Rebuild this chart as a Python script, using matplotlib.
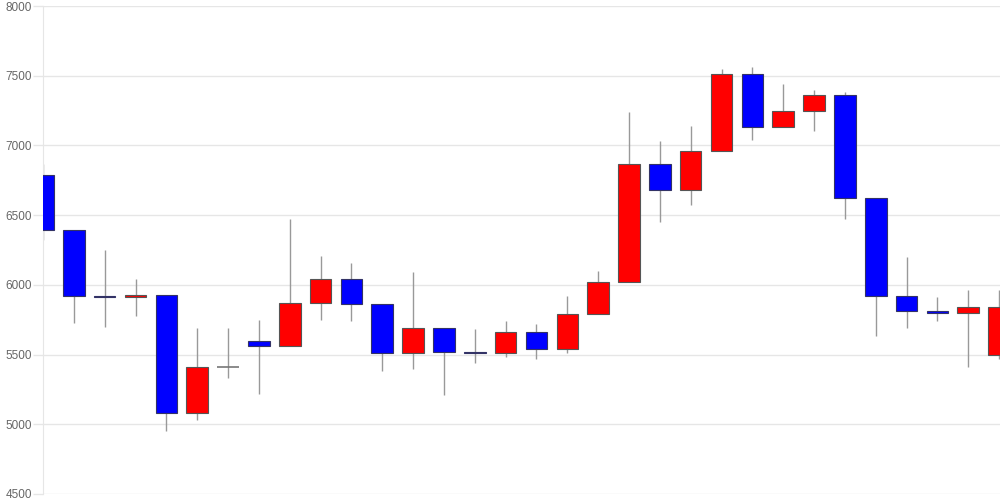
import matplotlib
matplotlib.use("Agg")
import matplotlib.pyplot as plt
import numpy as np

# daily OHLC values
opens  = [6790, 6390, 5920, 5910, 5930, 5080, 5410, 5600, 5560, 5870, 6040,
          5860, 5510, 5690, 5520, 5510, 5660, 5540, 5790, 6020, 6870, 6680,
          6960, 7510, 7130, 7250, 7360, 6620, 5920, 5810, 5800, 5500]
highs  = [6870, 6390, 6250, 6040, 5930, 5690, 5690, 5750, 6470, 6210, 6160,
          5860, 6090, 5690, 5680, 5740, 5720, 5920, 6100, 7240, 7030, 7140,
          7550, 7560, 7440, 7400, 7380, 6620, 6200, 5910, 5960, 5960]
lows   = [6320, 5730, 5700, 5780, 4950, 5030, 5330, 5220, 5560, 5750, 5740,
          5380, 5400, 5210, 5440, 5480, 5470, 5510, 5790, 6020, 6450, 6570,
          6960, 7040, 7130, 7100, 6470, 5630, 5690, 5740, 5410, 5470]
closes = [6390, 5920, 5910, 5930, 5080, 5410, 5410, 5560, 5870, 6040, 5860,
          5510, 5690, 5520, 5510, 5660, 5540, 5790, 6020, 6870, 6680, 6960,
          7510, 7130, 7250, 7360, 6620, 5920, 5810, 5800, 5840, 5840]
y_ticks = [4500, 5000, 5500, 6000, 6500, 7000, 7500, 8000]

plt.rcParams["font.family"] = ["Liberation Sans", "DejaVu Sans"]

fig = plt.figure(figsize=(10, 5), dpi=100)
ax = fig.add_axes([0.043, 0.012, 0.957, 0.976])

o = np.array(opens, dtype=float)
h = np.array(highs, dtype=float)
l = np.array(lows, dtype=float)
c = np.array(closes, dtype=float)
x = np.arange(len(o))

up = c > o
down = c < o
flat = c == o
width = 0.7

# wicks
ax.vlines(x, l, h, color="#999999", lw=1, zorder=2)

# bodies
ax.bar(x[up], (c - o)[up], bottom=o[up], width=width, color="#ff0000",
       edgecolor="#555555", lw=0.8, zorder=3)
ax.bar(x[down], (o - c)[down], bottom=c[down], width=width, color="#0000ff",
       edgecolor="#333366", lw=0.8, zorder=3)
ax.hlines(o[flat], x[flat] - width / 2, x[flat] + width / 2,
          color="#777777", lw=1.2, zorder=3)

ax.set_xlim(0, len(o) - 0.97)
ax.set_ylim(4500, 8000)
ax.set_yticks(y_ticks)
ax.set_yticklabels([str(v) for v in y_ticks])
ax.set_xticks([])

ax.grid(axis="y", color="#e6e6e6", lw=1, zorder=0)
ax.set_axisbelow(True)
for side in ["top", "right", "bottom"]:
    ax.spines[side].set_visible(False)
ax.spines["left"].set_color("#e6e6e6")
ax.tick_params(axis="y", length=7, width=1, color="#e6e6e6", pad=1,
               labelsize=8.5, labelcolor="#666666")

fig.savefig("out.png", dpi=100)
